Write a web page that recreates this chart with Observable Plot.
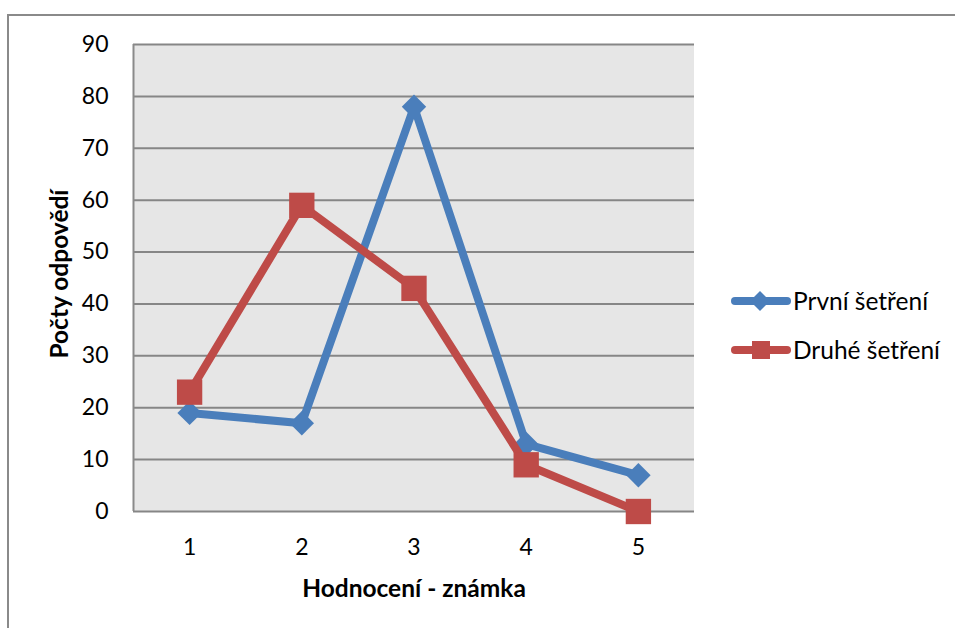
<!DOCTYPE html>
<html>
<head>
<meta charset="utf-8">
<script src="https://cdn.jsdelivr.net/npm/d3@7"></script>
<script src="https://cdn.jsdelivr.net/npm/@observablehq/plot@0.6"></script>
<style>
  html, body { margin: 0; padding: 0; background: #fff; overflow: hidden; }
  #wrap { position: relative; width: 955px; height: 628px; font-family: Lato, "Open Sans", sans-serif; }
  #border { position: absolute; left: 7px; top: 14px; width: 1100px; height: 1000px; border-left: 2px solid #8a8a8a; border-top: 2px solid #8a8a8a; box-sizing: border-box; }
  #legend { position: absolute; left: 731px; top: 276px; font-size: 24.5px; color: #000; }
  .item { display: flex; align-items: center; height: 49px; }
  .item svg { margin-right: 2px; }
</style>
</head>
<body>
<div id="wrap"><div id="border"></div><div id="chart"></div><div id="legend"></div></div>
<script>
const categories = [1, 2, 3, 4, 5];
const seriesNames = ["První šetření", "Druhé šetření"];
const prvni = [19, 17, 78, 13, 7];
const druhe = [23, 59, 43, 9, 0];
const yTicks = [0, 10, 20, 30, 40, 50, 60, 70, 80, 90];
const colors = ["#4a7ebb", "#be4b48"];
const symbols = ["diamond2", "square"];

const data = [];
categories.forEach((c, i) => data.push({x: c, y: prvni[i], s: seriesNames[0]}));
categories.forEach((c, i) => data.push({x: c, y: druhe[i], s: seriesNames[1]}));
const d1 = data.filter(d => d.s === seriesNames[0]);
const d2 = data.filter(d => d.s === seriesNames[1]);

const font = "Lato, 'Open Sans', sans-serif";
const chart = Plot.plot({
  width: 955, height: 628,
  marginLeft: 133, marginRight: 261, marginTop: 44, marginBottom: 117,
  style: {fontFamily: font, fontSize: "23px", color: "#000", background: "transparent", overflow: "visible"},
  x: {type: "linear", domain: [0.5, 5.5], axis: null},
  y: {domain: [0, 90], axis: null},
  marks: [
    Plot.rect([{}], {x1: 0.5, x2: 5.5, y1: 0, y2: 90, fill: "#e6e6e6"}),
    Plot.ruleY(yTicks, {stroke: "#868686", strokeWidth: 2}),
    Plot.ruleX([0.5], {stroke: "#8a8a8a", strokeWidth: 2}),
    Plot.axisY(yTicks, {tickSize: 0, tickPadding: 25, label: null, fontSize: 23}),
    Plot.axisX(categories, {tickSize: 0, tickPadding: 27, label: null, fontSize: 23}),
    Plot.text(["Počty odpovědí"], {frameAnchor: "left", dx: -73, dy: -4, rotate: -90, textAnchor: "middle", fontWeight: "bold", fontSize: 24.5, text: d => d}),
    Plot.text(["Hodnocení - známka"], {frameAnchor: "bottom", dy: 85, fontWeight: "bold", fontSize: 24.5, text: d => d}),
    Plot.line(d1, {x: "x", y: "y", stroke: colors[0], strokeWidth: 8, strokeLinejoin: "round"}),
    Plot.dot(d1, {x: "x", y: "y", symbol: symbols[0], r: 11, fill: colors[0], stroke: "none"}),
    Plot.line(d2, {x: "x", y: "y", stroke: colors[1], strokeWidth: 8, strokeLinejoin: "round"}),
    Plot.dot(d2, {x: "x", y: "y", symbol: symbols[1], r: 14.3, fill: colors[1], stroke: "none"})
  ]
});
document.getElementById("chart").appendChild(chart);

const legend = document.getElementById("legend");
seriesNames.forEach((name, i) => {
  const item = document.createElement("div");
  item.className = "item";
  const sym = i === 0
    ? `<polygon points="29,5 39,15 29,25 19,15" fill="${colors[0]}"/>`
    : `<rect x="21" y="6" width="18" height="18" fill="${colors[1]}"/>`;
  item.innerHTML = `<svg width="60" height="30"><line x1="4" y1="15" x2="56" y2="15" stroke="${colors[i]}" stroke-width="8" stroke-linecap="round"/>${sym}</svg><span>${name}</span>`;
  legend.appendChild(item);
});
</script>
</body>
</html>
